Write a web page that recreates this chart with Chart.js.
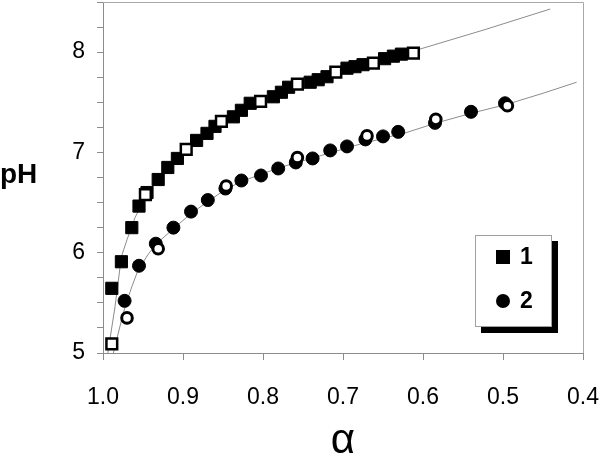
<!DOCTYPE html>
<html>
<head>
<meta charset="utf-8">
<script src="https://cdn.jsdelivr.net/npm/chart.js@4.4.1/dist/chart.umd.min.js"></script>
<style>
  html, body { margin: 0; padding: 0; background: #fff; }
</style>
</head>
<body>
<canvas id="chart" width="602" height="454"></canvas>
<script>
// pH vs degree of neutralisation (alpha)

// series 1 - filled squares
const alpha1 = [0.989, 0.977, 0.964, 0.955, 0.945, 0.931, 0.919, 0.907, 0.883, 0.870, 0.860, 0.837, 0.827,
                0.816, 0.787, 0.777, 0.768, 0.741, 0.731, 0.720, 0.695, 0.685, 0.675, 0.648, 0.637, 0.627];
const pH1 = [5.645, 5.91, 6.25, 6.465, 6.60, 6.73, 6.85, 6.94, 7.12, 7.19, 7.26, 7.355, 7.42,
             7.49, 7.555, 7.60, 7.65, 7.70, 7.725, 7.755, 7.84, 7.855, 7.875, 7.935, 7.96, 7.98];

// series 1 - open squares
const alpha1Open = [0.989, 0.947, 0.896, 0.852, 0.803, 0.757, 0.709, 0.662, 0.612];
const pH1Open = [5.09, 6.58, 7.03, 7.31, 7.51, 7.68, 7.80, 7.89, 7.99];

// series 2 - filled circles
const alpha2 = [0.973, 0.955, 0.934, 0.912, 0.890, 0.869, 0.847, 0.827, 0.8025, 0.781,
                0.759, 0.738, 0.716, 0.695, 0.672, 0.650, 0.631, 0.585, 0.540, 0.4975];
const pH2 = [5.52, 5.87, 6.09, 6.25, 6.41, 6.525, 6.64, 6.72, 6.77, 6.84,
             6.90, 6.94, 7.02, 7.06, 7.13, 7.16, 7.205, 7.295, 7.405, 7.49];

// series 2 - open circles
const alpha2Open = [0.970, 0.931, 0.846, 0.757, 0.670, 0.584, 0.4945];
const pH2Open = [5.35, 6.04, 6.665, 6.95, 7.165, 7.33, 7.465];

// thin fitted curves
const fitAlpha1 = [0.994, 0.985, 0.977, 0.970, 0.960, 0.947, 0.930, 0.907, 0.883, 0.860, 0.830,
                   0.800, 0.770, 0.740, 0.710, 0.680, 0.650, 0.620, 0.604, 0.5225, 0.441];
const fitPH1 = [5.0, 5.46, 5.96, 6.13, 6.35, 6.56, 6.74, 6.94, 7.10, 7.24, 7.40,
                7.51, 7.62, 7.70, 7.78, 7.85, 7.92, 7.97, 8.03, 8.225, 8.43];

const fitAlpha2 = [0.987, 0.979, 0.9725, 0.964, 0.956, 0.943, 0.933, 0.912, 0.890, 0.869, 0.847, 0.827,
                   0.800, 0.770, 0.740, 0.710, 0.680, 0.650, 0.620, 0.585, 0.540, 0.495, 0.450, 0.408];
const fitPH2 = [5.0, 5.26, 5.46, 5.66, 5.83, 5.99, 6.09, 6.24, 6.39, 6.51, 6.63, 6.71,
                6.79, 6.87, 6.94, 7.01, 7.08, 7.14, 7.20, 7.29, 7.39, 7.48, 7.59, 7.70];

const xTicks = [1.0, 0.9, 0.8, 0.7, 0.6, 0.5, 0.4];
const yLabels = [5, 6, 7, 8];
const legendNames = ['1', '2'];

const pts = (xs, ys) => xs.map((x, i) => ({ x: x, y: ys[i] }));

const FONT = 'Liberation Sans, Arial, sans-serif';

// frame round the plot, the horizontal "pH" label and the shadowed legend box
const extras = {
    id: 'extras',
    afterDraw: (chart) => {
        const ctx = chart.ctx;
        const a = chart.chartArea;
        ctx.save();

        ctx.strokeStyle = '#a8a8a8';
        ctx.lineWidth = 1;
        ctx.beginPath();
        ctx.moveTo(a.left, a.top + 0.5);
        ctx.lineTo(a.right + 0.5, a.top + 0.5);
        ctx.lineTo(a.right + 0.5, a.bottom);
        ctx.stroke();

        ctx.fillStyle = '#000';
        ctx.font = 'bold 28px ' + FONT;
        ctx.textAlign = 'left';
        ctx.textBaseline = 'alphabetic';
        ctx.fillText('pH', 0, 183);

        // legend
        const bx = a.right - 108, by = a.top + 233, bw = 76, bh = 91;
        ctx.fillStyle = '#000';
        ctx.fillRect(bx + 6, by + 6, bw + 1, bh + 1);
        ctx.fillStyle = '#fff';
        ctx.fillRect(bx, by, bw, bh);
        ctx.strokeStyle = '#a0a0a0';
        ctx.strokeRect(bx + 0.5, by + 0.5, bw, bh);

        ctx.fillStyle = '#000';
        ctx.fillRect(bx + 21, by + 15, 14, 14);
        ctx.beginPath();
        ctx.arc(bx + 28, by + 66, 7, 0, Math.PI * 2);
        ctx.fill();

        ctx.font = 'bold 23px ' + FONT;
        ctx.textBaseline = 'middle';
        ctx.fillText(legendNames[0], bx + 45, by + 23);
        ctx.fillText(legendNames[1], bx + 45, by + 67);
        ctx.restore();
    }
};

new Chart(document.getElementById('chart'), {
    type: 'scatter',
    data: {
        datasets: [
            {
                label: 'fit 1', data: pts(fitAlpha1, fitPH1), showLine: true,
                borderColor: '#8c8c8c', borderWidth: 1, pointRadius: 0, order: 10
            },
            {
                label: 'fit 2', data: pts(fitAlpha2, fitPH2), showLine: true,
                borderColor: '#8c8c8c', borderWidth: 1, pointRadius: 0, order: 9
            },
            {
                label: '1', data: pts(alpha1, pH1), pointStyle: 'rect', pointRadius: 8.6,
                backgroundColor: '#000', borderColor: '#000', borderWidth: 1, order: 5
            },
            {
                label: '1 open', data: pts(alpha1Open, pH1Open), pointStyle: 'rect', pointRadius: 7.6,
                backgroundColor: '#fff', borderColor: '#000', borderWidth: 2.5, order: 4
            },
            {
                label: '2', data: pts(alpha2, pH2), pointStyle: 'circle', pointRadius: 6.5,
                backgroundColor: '#000', borderColor: '#000', borderWidth: 1, order: 3
            },
            {
                label: '2 open', data: pts(alpha2Open, pH2Open), pointStyle: 'circle', pointRadius: 5.3,
                backgroundColor: '#fff', borderColor: '#000', borderWidth: 3, order: 2
            }
        ]
    },
    options: {
        responsive: false,
        animation: false,
        devicePixelRatio: 1,
        layout: { autoPadding: false, padding: { top: 2, right: 19, left: 0, bottom: 0 } },
        plugins: {
            legend: { display: false },
            tooltip: { enabled: false }
        },
        scales: {
            x: {
                type: 'linear',
                reverse: true,
                min: 0.4,
                max: 1.0,
                afterBuildTicks: (scale) => { scale.ticks = xTicks.map(v => ({ value: v })); },
                afterFit: (scale) => {
                    scale.height = 101;
                    scale.paddingLeft = 0;
                    scale.paddingRight = 0;
                },
                ticks: {
                    color: '#000',
                    font: { family: FONT, size: 23 },
                    padding: 24,
                    maxRotation: 0,
                    autoSkip: false,
                    callback: (v) => Number(v).toFixed(1)
                },
                grid: { drawOnChartArea: false, drawTicks: true, tickLength: 7, color: '#8c8c8c' },
                border: { display: true, color: '#8c8c8c' },
                title: {
                    display: true,
                    text: 'α',
                    color: '#000',
                    font: { family: FONT, size: 42, lineHeight: 0.6 },
                    padding: 0
                }
            },
            y: {
                min: 5,
                max: 8.5,
                afterFit: (scale) => {
                    scale.width = 103;
                    scale.paddingTop = 0;
                    scale.paddingBottom = 0;
                },
                ticks: {
                    stepSize: 0.25,
                    color: '#000',
                    font: { family: FONT, size: 23 },
                    padding: 12,
                    autoSkip: false,
                    callback: (v) => yLabels.includes(v) ? String(v) : ''
                },
                grid: { drawOnChartArea: false, drawTicks: true, tickLength: 6, color: '#8c8c8c' },
                border: { display: true, color: '#8c8c8c' }
            }
        }
    },
    plugins: [extras]
});
</script>
</body>
</html>
